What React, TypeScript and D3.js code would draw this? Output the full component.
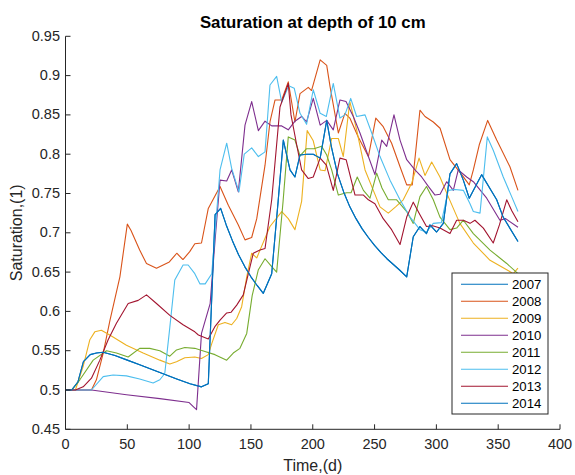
import React from "react";
import * as d3 from "d3";

type P = [number, number];

const years = ["2007", "2008", "2009", "2010", "2011", "2012", "2013", "2014"];
const colors = ["#0072BD", "#D95319", "#EDB120", "#7E2F8E", "#77AC30", "#4DBEEE", "#A2142F", "#0072BD"];
const xTicks = [0, 50, 100, 150, 200, 250, 300, 350, 400];
const yTicks = [0.45, 0.5, 0.55, 0.6, 0.65, 0.7, 0.75, 0.8, 0.85, 0.9, 0.95];

const s2007: P[] = [[0,0.5],[5,0.5],[10,0.51],[14.5,0.536],[20,0.545],[25,0.547],[30.5,0.548],[40,0.544],[50,0.538],[60,0.532],[70,0.526],[80,0.52],[90,0.514],[100.7,0.508],[110,0.504],[115.5,0.508],[121,0.723],[125.5,0.731],[130,0.71],[135,0.69],[140,0.672],[145,0.657],[150,0.644],[155,0.633],[160,0.623],[166.8,0.648],[172,0.74],[176.2,0.818],[181.6,0.78],[185.6,0.771],[189.7,0.799],[195,0.8],[200.4,0.8],[206,0.795],[211.3,0.843],[215,0.81],[220,0.775],[225,0.752],[230,0.733],[235,0.718],[240,0.705],[245,0.694],[250,0.684],[255,0.675],[260,0.667],[265,0.66],[270,0.653],[276,0.644],[281.3,0.695],[286.7,0.708],[292,0.699],[294.8,0.71],[300.2,0.701],[305.6,0.712],[311,0.775],[316.4,0.788],[321.8,0.767],[326.6,0.744],[336.6,0.774],[348.8,0.742],[354,0.72],[366,0.689]];
const s2008: P[] = [[0,0.5],[10,0.5],[21,0.5],[25,0.513],[30.5,0.547],[36,0.589],[44,0.644],[50,0.711],[53,0.703],[60,0.678],[65.5,0.661],[73.6,0.655],[84,0.663],[90,0.674],[95,0.666],[100.5,0.676],[104.6,0.686],[110,0.687],[115.5,0.731],[125,0.759],[131.7,0.735],[139.8,0.71],[145.2,0.691],[150.6,0.694],[154.7,0.718],[161.4,0.786],[165.4,0.841],[169.5,0.869],[174.9,0.869],[180.2,0.892],[185.6,0.841],[189.7,0.877],[196.4,0.885],[199,0.881],[206,0.92],[211.3,0.913],[214,0.886],[220.7,0.827],[226,0.852],[230,0.846],[236.8,0.822],[245,0.797],[251,0.846],[257,0.835],[263.8,0.814],[270.6,0.784],[276,0.761],[280.5,0.761],[286.7,0.856],[290.8,0.848],[297.5,0.841],[303,0.833],[311,0.793],[320.5,0.774],[326.6,0.761],[329.9,0.78],[334.7,0.812],[341.5,0.843],[348.8,0.818],[359.5,0.784],[366,0.754]];
const s2009: P[] = [[0,0.5],[8,0.5],[14.3,0.53],[19.7,0.564],[23.7,0.574],[29,0.576],[35.8,0.57],[49.3,0.557],[62.8,0.547],[76.3,0.538],[84.4,0.533],[89.8,0.536],[96.5,0.541],[104.6,0.542],[110,0.54],[115.5,0.545],[118.3,0.559],[123.6,0.583],[129,0.586],[134.4,0.583],[138.5,0.591],[142.5,0.606],[146.6,0.644],[150.6,0.674],[154.7,0.668],[158.7,0.683],[165.4,0.708],[174.9,0.727],[180.2,0.718],[185.6,0.704],[191,0.74],[195.5,0.83],[200.4,0.817],[206,0.78],[210,0.779],[215.3,0.82],[220.7,0.82],[224.7,0.797],[230,0.867],[235.5,0.831],[242.3,0.78],[249,0.754],[254.4,0.733],[261.1,0.725],[267,0.733],[273.2,0.742],[280,0.763],[286,0.795],[290.8,0.773],[296.2,0.79],[302.9,0.771],[309.6,0.746],[319,0.712],[329.9,0.687],[343.4,0.665],[356.9,0.653],[362.2,0.648],[366,0.655]];
const s2010: P[] = [[0,0.5],[10,0.5],[21,0.5],[49.3,0.494],[76.3,0.489],[100,0.484],[104,0.478],[106,0.475],[110,0.572],[117,0.61],[121,0.691],[125,0.767],[130.4,0.766],[134.4,0.78],[139.8,0.752],[145.2,0.837],[150.6,0.867],[156,0.83],[161.4,0.842],[166.8,0.836],[174.9,0.836],[180.2,0.831],[185.6,0.842],[191,0.848],[195,0.841],[200.4,0.871],[206,0.837],[211.3,0.843],[216.6,0.831],[222,0.869],[226.9,0.867],[232.8,0.848],[238.2,0.827],[245,0.797],[250.3,0.774],[255.8,0.818],[259.8,0.81],[265.7,0.85],[270.6,0.818],[276,0.793],[282.7,0.78],[288.1,0.771],[293.5,0.759],[298.9,0.748],[303,0.749],[308.3,0.765],[313.7,0.754],[317.7,0.78],[324.5,0.771],[329.9,0.765],[340.7,0.744],[351.4,0.716],[356,0.718],[366,0.707]];
const s2011: P[] = [[0,0.5],[5,0.5],[11.6,0.513],[22.4,0.538],[33.2,0.55],[41.2,0.547],[50.7,0.542],[60,0.553],[68.2,0.553],[76.3,0.55],[84.4,0.543],[89.8,0.551],[96.5,0.554],[104.6,0.553],[112.8,0.549],[120.9,0.545],[130.4,0.538],[135.7,0.547],[141.1,0.553],[146.6,0.572],[151,0.62],[156,0.653],[161.4,0.667],[166.8,0.657],[170.8,0.65],[176,0.74],[180.2,0.822],[185.6,0.818],[189.7,0.798],[195,0.807],[201,0.807],[207.2,0.81],[211.3,0.799],[215.3,0.78],[220.7,0.748],[227.4,0.751],[231,0.751],[236,0.771],[241,0.754],[246.3,0.744],[251.7,0.776],[256,0.757],[261.1,0.742],[267.9,0.742],[276,0.727],[281.3,0.712],[286.7,0.746],[292,0.759],[297.5,0.742],[302.9,0.72],[311,0.704],[316.4,0.706],[321.8,0.716],[329.9,0.699],[343.4,0.678],[356.9,0.661],[366,0.648]];
const s2012: P[] = [[0,0.5],[10,0.5],[21,0.5],[30.5,0.517],[38.5,0.519],[49.3,0.518],[60,0.514],[70.9,0.509],[76.3,0.513],[80.3,0.521],[84.4,0.58],[88.4,0.64],[95.1,0.659],[99.2,0.659],[104.6,0.648],[108.8,0.635],[113,0.635],[118.3,0.648],[125,0.78],[130.4,0.814],[134.4,0.782],[140.3,0.752],[144.6,0.8],[150.6,0.808],[156,0.797],[161.4,0.803],[165.4,0.888],[170.8,0.899],[174.9,0.866],[180.5,0.887],[185,0.884],[189.7,0.852],[195,0.838],[200.4,0.882],[206,0.852],[211,0.848],[216.6,0.89],[222,0.846],[226,0.85],[230.7,0.871],[235.5,0.848],[242.3,0.85],[247.7,0.827],[254.4,0.797],[262.5,0.767],[270.6,0.742],[278.7,0.72],[286.7,0.704],[292,0.701],[297.5,0.712],[304,0.713],[309.6,0.754],[315,0.755],[321.8,0.754],[327.2,0.737],[329.9,0.727],[335.3,0.725],[341.2,0.822],[346,0.805],[354.1,0.771],[360.9,0.746],[366,0.727]];
const s2013: P[] = [[0,0.5],[8,0.5],[14.3,0.504],[21,0.515],[27.8,0.538],[34.5,0.564],[41.2,0.585],[50.7,0.61],[58.8,0.614],[65.5,0.621],[73.6,0.61],[84.4,0.595],[95.1,0.583],[104.6,0.574],[107.5,0.57],[115.5,0.565],[121,0.581],[125,0.589],[130.4,0.598],[134,0.599],[138.5,0.608],[143.8,0.621],[147.9,0.648],[151.9,0.674],[157.3,0.678],[161.4,0.68],[166.8,0.742],[173.5,0.86],[180.2,0.89],[182.4,0.85],[187,0.812],[191,0.78],[196.4,0.769],[200.4,0.771],[206,0.795],[211,0.786],[216.6,0.754],[222,0.795],[227,0.793],[234.2,0.748],[241,0.748],[245,0.742],[250.3,0.737],[257,0.718],[263.8,0.704],[270.6,0.685],[276,0.72],[281.3,0.739],[286.7,0.723],[292,0.708],[297,0.709],[302.9,0.706],[311,0.699],[316.4,0.716],[321.8,0.716],[327.2,0.712],[331.2,0.716],[338,0.706],[346,0.687],[351,0.71],[356.9,0.742],[361,0.728],[366,0.714]];
const s2014: P[] = s2007;

const seriesData: P[][] = [s2007, s2008, s2009, s2010, s2011, s2012, s2013, s2014];

const W = 575, H = 475;
const M = { left: 65.5, right: 560, top: 36.3, bottom: 429.3 };
const TXT = "#262626";
const FONT = "'Liberation Sans', Arial, Helvetica, sans-serif";

export default function App() {
  const x = d3.scaleLinear().domain([0, 400]).range([M.left, M.right]);
  const y = d3.scaleLinear().domain([0.45, 0.95]).range([M.bottom, M.top]);
  const line = d3.line<P>().x(d => x(d[0])).y(d => y(d[1]));
  const tk = 5;

  const lg = { x: 452, y: 273, w: 96, h: 141, row: 17, first: 284.3 };

  return (
    <div style={{ position: "fixed", left: 0, top: 0, background: "#fff" }}>
      <svg width={W} height={H} style={{ display: "block", fontFamily: FONT }}>
        <rect width={W} height={H} fill="#fff" />
        <g>
          {seriesData.map((s, i) => (
            <path key={i} d={line(s) || ""} fill="none" stroke={colors[i]} strokeWidth={1.1} strokeLinejoin="round" />
          ))}
        </g>
        <line x1={M.left} x2={M.right} y1={M.bottom} y2={M.bottom} stroke={TXT} strokeWidth={1} />
        <line x1={M.left} x2={M.left} y1={M.top} y2={M.bottom} stroke={TXT} strokeWidth={1} />
        {xTicks.map(t => (
          <g key={"x" + t}>
            <line x1={x(t)} x2={x(t)} y1={M.bottom} y2={M.bottom - tk} stroke={TXT} strokeWidth={1} />
            <text x={x(t)} y={M.bottom + 19.5} textAnchor="middle" fontSize={14.5} fill={TXT}>{t}</text>
          </g>
        ))}
        {yTicks.map(t => (
          <g key={"y" + t}>
            <line x1={M.left} x2={M.left + tk} y1={y(t)} y2={y(t)} stroke={TXT} strokeWidth={1} />
            <text x={M.left - 5.5} y={y(t) + 4.5} textAnchor="end" fontSize={14.5} fill={TXT}>{d3.format("")(t)}</text>
          </g>
        ))}
        <text x={(M.left + M.right) / 2} y={28} textAnchor="middle" fontSize={16.8} fontWeight="bold" fill="#000">Saturation at depth of 10 cm</text>
        <text x={(M.left + M.right) / 2} y={471} textAnchor="middle" fontSize={16} fill={TXT}>Time,(d)</text>
        <text transform={`translate(22,${(M.top + M.bottom) / 2}) rotate(-90)`} textAnchor="middle" fontSize={16} fill={TXT}>Saturation,(1)</text>
        <rect x={lg.x} y={lg.y} width={lg.w} height={lg.h} fill="#fff" stroke={TXT} strokeWidth={1} />
        {years.map((yr, i) => (
          <g key={yr}>
            <line x1={lg.x + 9} x2={lg.x + 56} y1={lg.first + i * lg.row} y2={lg.first + i * lg.row} stroke={colors[i]} strokeWidth={1.1} />
            <text x={lg.x + 60} y={lg.first + i * lg.row + 4.7} fontSize={13.2} fill="#000">{yr}</text>
          </g>
        ))}
      </svg>
    </div>
  );
}
